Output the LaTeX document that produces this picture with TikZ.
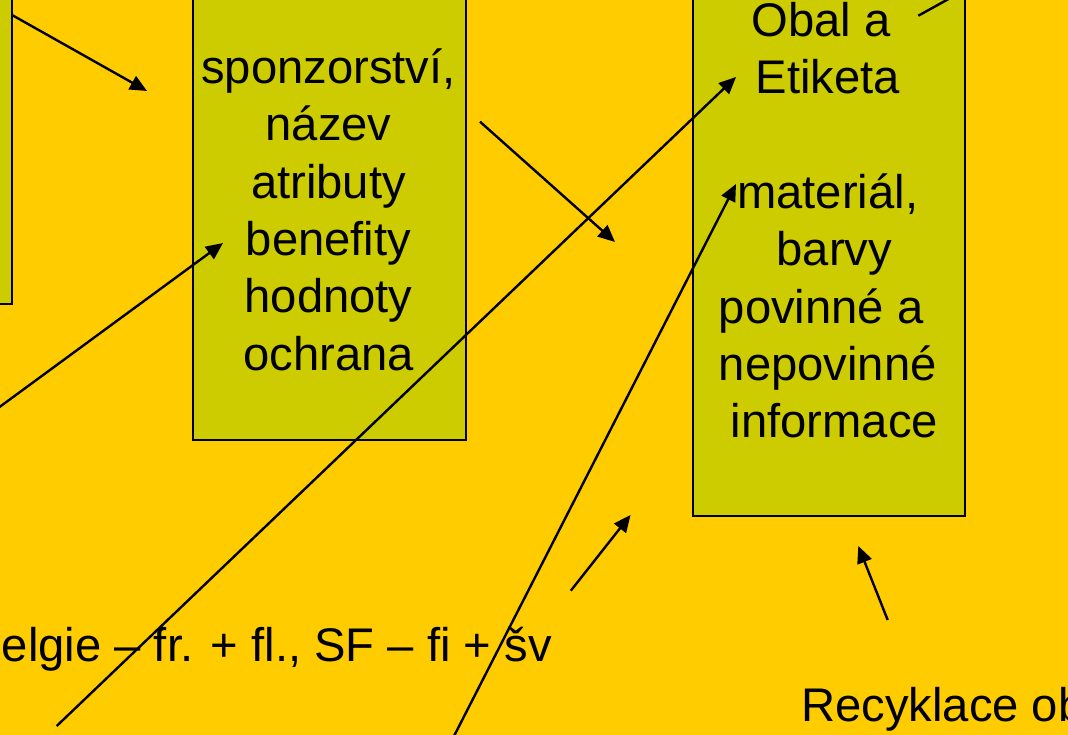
\documentclass[tikz,border=0pt]{standalone}
\usepackage{fontspec}
\setmainfont{Liberation Sans}
\usetikzlibrary{arrows.meta, positioning}
\definecolor{slideyellow}{RGB}{255, 204, 0}
\definecolor{boxolive}{RGB}{204, 204, 0}
\newcommand{\gapspace}{\hphantom{\ }}

\begin{document}
\begin{tikzpicture}[x=1pt, y=-1pt,
    box/.style={draw, line width=2pt, fill=boxolive, inner sep=0pt, anchor=north west},
    boxtext/.style={align=center, inner sep=0pt, anchor=base, font=\fontsize{47.2}{57.3}\selectfont},
    slidetext/.style={inner sep=0pt, font=\fontsize{47.2}{57.3}\selectfont},
    arr/.style={-{Triangle[length=17pt, width=15pt]}, line width=2.4pt}]
    \useasboundingbox (0,0) rectangle (1068,735);
    \clip (0,0) rectangle (1068,735);
    \fill[slideyellow] (0,0) rectangle (1068,735);

    % the three boxes, cut by the slide edge
    \node[box, minimum width=211pt, minimum height=403pt] (leftbox) at (-200,-100) {};
    \node[box, minimum width=273pt, minimum height=539pt] (midbox) at (192,-100) {};
    \node[box, minimum width=272.5pt, minimum height=615pt] (rightbox) at (691.5,-100) {};

    % texts sit on the baseline of their last line
    \node[boxtext] (midtext) at (328.5,370) {sponzorství,\\název\\atributy\\benefity\\hodnoty\\ochrana};
    \node[boxtext] (righttext) at (827.8,437.6) {Obal a\gapspace\\Etiketa\\\mbox{}\\materiál,\\\gapspace barvy\\povinné a\gapspace\\nepovinné\\\gapspace informace};

    \node[slidetext, anchor=base east] (langs) at (552,661) {Belgie – fr. + fl., SF – fi + šv};
    \node[slidetext, anchor=base west] (recycle) at (801,721.7) {Recyklace obalů};

    % arrow ends
    \coordinate (leftout) at (12,15);
    \coordinate (gaptop) at (147,91);
    \coordinate (offleft) at (-10,414);
    \coordinate (benefity) at (223,243);
    \coordinate (midout) at (480,121.7);
    \coordinate (gapright) at (615,242);
    \coordinate (lowleft) at (56.7,726);
    \coordinate (etiketa) at (736,77);
    \coordinate (offbottom) at (452,740);
    \coordinate (material) at (736,184);
    \coordinate (lowmid) at (570.8,590.7);
    \coordinate (gaplow) at (630.5,515);
    \coordinate (recycleup) at (887.7,620);
    \coordinate (underbox) at (858.3,546);
    \coordinate (obalout) at (918.3,15.7);
    \coordinate (offtop) at (975,-15.6);

    \draw[arr] (leftout) -- (gaptop);
    \draw[arr] (offleft) -- (benefity);
    \draw[arr] (midout) -- (gapright);
    \draw[arr] (lowleft) -- (etiketa);
    \draw[arr] (offbottom) -- (material);
    \draw[arr] (lowmid) -- (gaplow);
    \draw[arr] (recycleup) -- (underbox);
    \draw[line width=2.4pt] (obalout) -- (offtop);
\end{tikzpicture}
\end{document}
